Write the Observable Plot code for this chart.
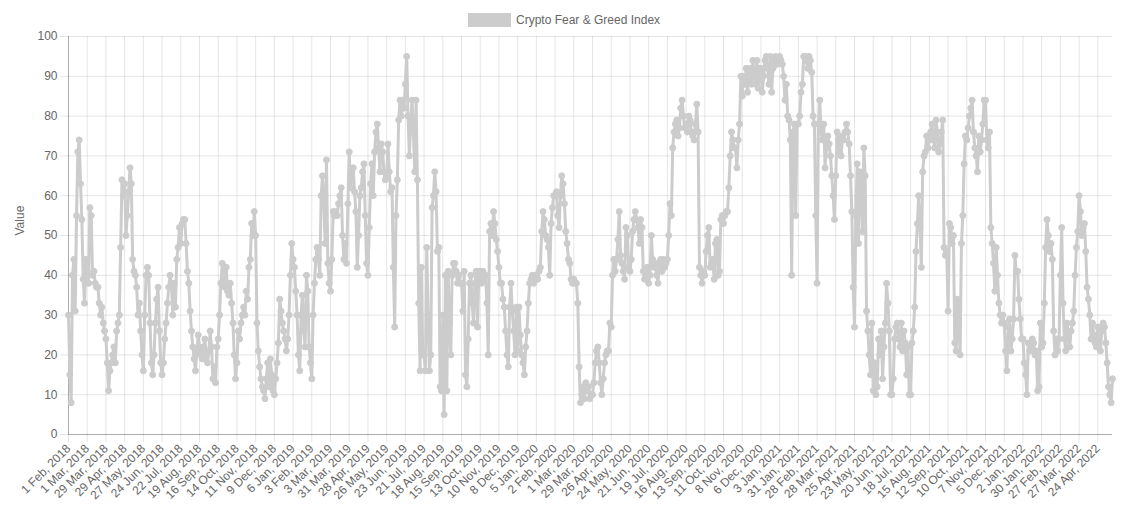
<!DOCTYPE html>
<html>
<head>
<meta charset="utf-8">
<script src="https://cdn.jsdelivr.net/npm/d3@7"></script>
<script src="https://cdn.jsdelivr.net/npm/@observablehq/plot@0.6"></script>
<style>
  html, body { margin: 0; padding: 0; background: #fff; }
  #wrap { position: relative; width: 1127px; height: 519px; font-family: "Liberation Sans", Arial, Helvetica, sans-serif; }
  #legend { position: absolute; left: 468px; top: 12px; height: 16px; display: flex; align-items: center; font-size: 12px; color: #666; }
  #legend .box { width: 43px; height: 14px; background: rgb(204,204,204); margin-right: 5px; }
  svg { font-family: "Liberation Sans", Arial, Helvetica, sans-serif; }
</style>
</head>
<body>
<div id="wrap">
  <div id="legend"><div class="box"></div><span>Crypto Fear &amp; Greed Index</span></div>
</div>
<script>
const seriesName = "Crypto Fear & Greed Index";
const yTitle = "Value";
const tickLabels = [
  "1 Feb, 2018","1 Mar, 2018","29 Mar, 2018","29 Apr, 2018","27 May, 2018","24 Jun, 2018","22 Jul, 2018","19 Aug, 2018","16 Sep, 2018","14 Oct, 2018","11 Nov, 2018","9 Dec, 2018",
  "6 Jan, 2019","3 Feb, 2019","3 Mar, 2019","31 Mar, 2019","28 Apr, 2019","26 May, 2019","23 Jun, 2019","21 Jul, 2019","18 Aug, 2019","15 Sep, 2019","13 Oct, 2019","10 Nov, 2019","8 Dec, 2019",
  "5 Jan, 2020","2 Feb, 2020","1 Mar, 2020","29 Mar, 2020","26 Apr, 2020","24 May, 2020","21 Jun, 2020","19 Jul, 2020","16 Aug, 2020","13 Sep, 2020","11 Oct, 2020","8 Nov, 2020","6 Dec, 2020",
  "3 Jan, 2021","31 Jan, 2021","28 Feb, 2021","28 Mar, 2021","25 Apr, 2021","23 May, 2021","20 Jun, 2021","18 Jul, 2021","15 Aug, 2021","12 Sep, 2021","10 Oct, 2021","7 Nov, 2021","5 Dec, 2021",
  "2 Jan, 2022","30 Jan, 2022","27 Feb, 2022","27 Mar, 2022","24 Apr, 2022"
];
const daysPerTick = 28;     // category positions between labelled ticks
const lastIndex = 1562;     // last daily category on the axis
const sampleStep = 2;       // one value read every 2 daily categories
// one row per labelled interval (14 readings each), last row runs to the end
const values = [
  30, 15, 8, 40, 44, 31, 55, 71, 74, 63, 54, 39, 33, 44,
  41, 38, 57, 55, 40, 41, 38, 37, 37, 33, 30, 32, 28, 26,
  24, 18, 11, 16, 18, 20, 22, 18, 26, 28, 30, 47, 64, 60,
  63, 50, 55, 61, 67, 63, 44, 41, 40, 37, 30, 33, 26, 20,
  16, 30, 40, 42, 40, 28, 18, 15, 20, 28, 34, 37, 26, 18,
  15, 18, 24, 28, 33, 37, 40, 38, 30, 38, 32, 44, 47, 52,
  48, 53, 54, 54, 48, 41, 38, 31, 26, 22, 19, 16, 21, 25,
  22, 20, 19, 22, 24, 20, 18, 21, 26, 22, 14, 17, 13, 22,
  24, 30, 38, 43, 40, 37, 42, 36, 35, 38, 33, 28, 20, 14,
  18, 26, 24, 28, 30, 32, 30, 36, 34, 42, 44, 53, 50, 56,
  50, 28, 21, 17, 14, 12, 11, 9, 14, 18, 12, 19, 15, 11,
  10, 14, 18, 23, 34, 31, 28, 26, 24, 21, 24, 30, 40, 48,
  44, 42, 36, 30, 20, 16, 30, 35, 26, 22, 40, 36, 22, 18,
  14, 30, 38, 44, 47, 44, 40, 60, 65, 58, 48, 69, 43, 38,
  36, 44, 56, 55, 56, 55, 58, 60, 62, 50, 44, 48, 43, 58,
  71, 62, 66, 67, 61, 56, 42, 50, 60, 62, 66, 68, 55, 43,
  40, 52, 63, 68, 60, 71, 76, 78, 72, 66, 73, 71, 66, 64,
  65, 73, 66, 61, 62, 42, 27, 55, 64, 79, 84, 80, 84, 82,
  88, 95, 80, 70, 78, 84, 76, 66, 84, 64, 33, 16, 42, 20,
  20, 16, 47, 30, 16, 20, 57, 60, 66, 61, 46, 47, 12, 11,
  30, 5, 40, 11, 41, 28, 20, 40, 43, 43, 41, 38, 40, 38,
  38, 31, 41, 15, 12, 24, 38, 40, 33, 28, 38, 41, 27, 41,
  41, 38, 41, 39, 40, 33, 20, 51, 53, 50, 56, 53, 49, 46,
  42, 38, 38, 34, 32, 26, 20, 17, 32, 38, 31, 26, 20, 32,
  21, 32, 25, 20, 18, 15, 22, 26, 33, 38, 39, 40, 38, 40,
  40, 39, 41, 42, 51, 56, 54, 50, 49, 47, 40, 53, 57, 60,
  60, 61, 55, 52, 60, 65, 63, 58, 51, 48, 44, 43, 39, 38,
  39, 38, 38, 33, 17, 8, 10, 12, 9, 13, 11, 12, 9, 10,
  10, 13, 18, 21, 22, 18, 13, 10, 14, 18, 20, 21, 21, 28,
  27, 40, 44, 41, 44, 49, 56, 45, 43, 41, 39, 52, 50, 42,
  41, 44, 51, 54, 56, 54, 52, 48, 54, 52, 41, 39, 40, 42,
  38, 40, 50, 44, 42, 43, 40, 38, 43, 44, 41, 44, 42, 43,
  44, 50, 58, 55, 72, 76, 78, 79, 75, 77, 82, 84, 80, 77,
  78, 76, 80, 79, 76, 75, 74, 78, 83, 76, 42, 40, 38, 41,
  40, 46, 50, 52, 42, 43, 44, 39, 48, 49, 40, 41, 54, 55,
  53, 55, 56, 56, 62, 70, 76, 74, 72, 72, 67, 74, 78, 90,
  85, 90, 88, 92, 86, 90, 92, 88, 94, 90, 88, 94, 87, 92,
  92, 86, 90, 94, 95, 92, 88, 95, 86, 92, 94, 95, 93, 94,
  95, 94, 93, 90, 84, 88, 80, 79, 74, 40, 76, 78, 55, 78,
  78, 80, 86, 88, 95, 95, 94, 92, 95, 94, 91, 80, 78, 55,
  38, 78, 84, 76, 74, 78, 67, 72, 75, 73, 70, 65, 60, 54,
  65, 76, 74, 71, 70, 75, 74, 76, 78, 76, 73, 65, 56, 37,
  27, 55, 68, 48, 66, 64, 51, 72, 65, 31, 26, 20, 15, 28,
  11, 18, 10, 12, 24, 20, 26, 14, 22, 28, 38, 33, 26, 10,
  10, 14, 24, 27, 28, 24, 22, 28, 21, 26, 23, 15, 22, 10,
  10, 23, 26, 32, 46, 53, 60, 52, 42, 66, 70, 71, 75, 72,
  74, 76, 78, 74, 72, 79, 76, 71, 73, 76, 79, 47, 45, 46,
  31, 53, 52, 48, 50, 23, 21, 34, 28, 20, 48, 55, 68, 75,
  74, 77, 80, 82, 84, 76, 72, 70, 66, 75, 71, 74, 78, 84,
  84, 74, 72, 76, 52, 48, 43, 36, 47, 40, 33, 30, 28, 30,
  28, 21, 16, 27, 29, 21, 24, 29, 45, 41, 41, 34, 29, 24,
  24, 18, 15, 10, 23, 21, 22, 24, 23, 20, 21, 11, 12, 28,
  22, 23, 33, 47, 54, 50, 46, 48, 44, 26, 20, 24, 21, 24,
  40, 52, 33, 24, 21, 28, 25, 22, 26, 28, 31, 40, 47, 51,
  60, 56, 50, 52, 53, 46, 37, 34, 30, 24, 28, 25, 23, 22,
  27, 26, 21, 26, 28, 27, 23, 18, 12, 10, 8, 14
];
const yTicks = [0, 10, 20, 30, 40, 50, 60, 70, 80, 90, 100];

const data = values.map((v, k) => ({idx: k * sampleStep, value: v}));
const xTicks = tickLabels.map((_, k) => k * daysPerTick);
const fmtX = d => tickLabels[Math.round(d / daysPerTick)];
const lineColor = "rgb(204,204,204)";

const chart = Plot.plot({
  width: 1127,
  height: 519,
  marginLeft: 68,
  marginRight: 15,
  marginTop: 36,
  marginBottom: 85,
  style: {fontSize: "12px", fontFamily: '"Liberation Sans", Arial, Helvetica, sans-serif', color: "#666", background: "transparent"},
  x: {domain: [0, lastIndex], label: null},
  y: {domain: [0, 100], label: null},
  marks: [
    Plot.gridX(xTicks, {stroke: "#000", strokeOpacity: 0.1}),
    Plot.gridY(yTicks, {stroke: "#000", strokeOpacity: 0.1}),
    Plot.axisX(xTicks, {tickFormat: fmtX, tickRotate: -45, tickSize: 8, tickPadding: 4, stroke: "#000", strokeOpacity: 0.1, fill: "#666", label: null}),
    Plot.axisY(yTicks, {tickSize: 8, tickPadding: 3, stroke: "#000", strokeOpacity: 0.1, fill: "#666", label: null}),
    Plot.ruleX([0], {stroke: "#000", strokeOpacity: 0.25}),
    Plot.ruleY([0], {stroke: "#000", strokeOpacity: 0.25}),
    Plot.text([yTitle], {frameAnchor: "left", dx: -48, rotate: -90, fill: "#666", fontSize: 12}),
    Plot.line(data, {x: "idx", y: "value", stroke: lineColor, strokeWidth: 3, strokeLinejoin: "round"}),
    Plot.dot(data, {x: "idx", y: "value", r: 3, fill: lineColor, stroke: lineColor, strokeWidth: 1})
  ]
});
document.getElementById("wrap").appendChild(chart);
</script>
</body>
</html>
